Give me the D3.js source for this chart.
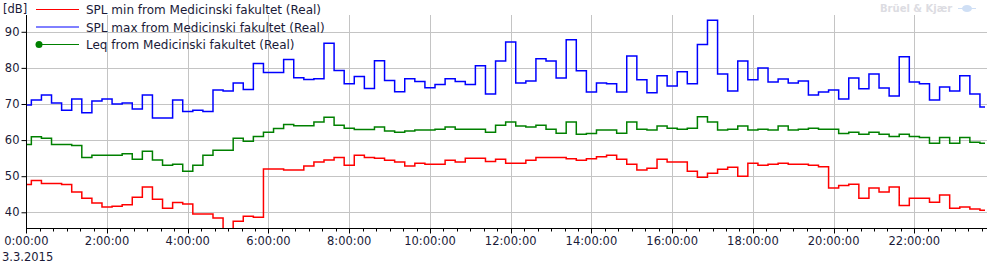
<!DOCTYPE html>
<html>
<head>
<meta charset="utf-8">
<script src="https://cdn.jsdelivr.net/npm/d3@7"></script>
<style>
  body { margin: 0; background: #fff; }
  svg { display: block; font-family: 'DejaVu Sans', sans-serif; }
</style>
</head>
<body>
<svg id="chart" width="990" height="264"></svg>
<script>
'use strict';

// 15 minute values, 3.3.2015 from 0:00:00 to 23:45:00
var splMin = [
  47.7, 48.8, 48.0, 48.0, 47.7, 45.6, 43.9, 42.6, 41.5, 41.7, 42.1, 44.2,
  47.0, 43.6, 41.1, 42.7, 42.3, 39.5, 39.5, 38.4, 35.3, 37.5, 38.9, 38.6,
  52.0, 52.0, 51.7, 51.7, 52.8, 53.9, 54.5, 55.2, 53.0, 55.8, 55.2, 55.0,
  54.4, 53.9, 52.8, 53.6, 53.3, 53.3, 54.4, 53.9, 55.0, 55.0, 54.1, 54.7,
  53.6, 53.6, 54.4, 55.2, 55.2, 55.2, 54.8, 54.4, 54.8, 55.4, 55.8, 54.7,
  53.3, 51.7, 52.2, 54.7, 53.9, 53.9, 51.4, 49.7, 50.8, 51.9, 52.5, 50.0,
  53.6, 53.0, 53.3, 53.6, 53.3, 53.3, 53.0, 52.6, 46.7, 47.4, 47.8, 43.9,
  46.7, 45.6, 47.0, 41.9, 43.9, 43.9, 42.8, 44.8, 41.1, 41.5, 40.9, 40.6
];
var splMax = [
  69.7, 71.1, 72.5, 70.3, 68.3, 71.4, 67.6, 70.8, 71.4, 70.0, 70.3, 68.6,
  72.5, 66.1, 66.1, 71.1, 67.9, 68.3, 67.9, 73.9, 73.6, 75.8, 74.0, 81.2,
  78.7, 78.7, 82.3, 77.3, 76.8, 77.0, 86.8, 79.3, 75.6, 77.6, 74.3, 82.0,
  76.5, 73.4, 77.0, 76.2, 74.5, 75.4, 77.0, 76.2, 75.4, 80.6, 72.8, 81.9,
  87.2, 75.8, 76.4, 82.5, 81.9, 77.2, 87.8, 79.2, 73.3, 75.8, 75.6, 73.3,
  83.3, 76.7, 73.1, 77.8, 75.0, 78.9, 75.6, 86.5, 93.2, 78.3, 73.6, 81.9,
  76.7, 80.0, 76.1, 76.9, 75.8, 76.4, 72.5, 73.3, 73.9, 71.4, 77.2, 74.2,
  78.3, 74.4, 72.2, 83.1, 76.1, 75.6, 71.1, 74.7, 73.6, 77.8, 72.8, 69.2
];
var leq = [
  58.8, 60.9, 60.5, 58.8, 58.8, 58.5, 55.2, 55.8, 55.8, 55.8, 56.2, 54.7,
  56.9, 54.5, 53.0, 53.3, 51.4, 53.0, 55.8, 57.2, 57.2, 60.5, 59.7, 61.0,
  62.2, 63.2, 64.3, 64.0, 64.0, 65.0, 66.3, 64.1, 63.3, 62.9, 62.9, 63.6,
  62.5, 62.2, 62.5, 62.8, 62.8, 63.0, 63.6, 63.0, 63.0, 63.0, 62.2, 64.1,
  65.0, 63.9, 63.6, 64.1, 63.0, 61.9, 65.0, 61.6, 61.8, 62.8, 62.8, 61.9,
  65.0, 63.0, 62.8, 63.9, 63.3, 63.0, 63.3, 66.5, 65.0, 62.8, 63.0, 63.9,
  62.8, 63.0, 62.8, 63.9, 62.8, 63.0, 63.3, 63.0, 63.0, 61.8, 62.2, 61.6,
  62.2, 61.6, 61.0, 61.6, 61.0, 60.7, 59.1, 60.7, 59.1, 60.7, 59.4, 59.1
];

var seriesNames = [
  'SPL min from Medicinski fakultet (Real)',
  'SPL max from Medicinski fakultet (Real)',
  'Leq from Medicinski fakultet (Real)'
];
var seriesColors = ['#ff0000', '#0000ff', '#008000'];
var yTicks = [40, 50, 60, 70, 80, 90];
var yUnit = '[dB]';
var dateLabel = '3.3.2015';
var brand = 'Brüel & Kjær';

var day = new Date(2015, 2, 3, 0, 0, 0);
var times = splMin.map(function(d, i){ return d3.timeMinute.offset(day, i * 15); });

var plot = { left: 26.3, right: 985, gridRight: 987, top: 15, bottom: 228 };
var inkColor = '#1a1a38';

var svg = d3.select('#chart');

var x = d3.scaleTime()
  .domain([day, times[times.length - 1]])
  .range([plot.left, plot.right]);

var y = d3.scaleLinear()
  .domain([35.65, 94.65])
  .range([plot.bottom, plot.top]);

// grid
var hourTicks = x.ticks(d3.timeHour.every(2));

svg.append('g').selectAll('line')
  .data(yTicks)
  .enter().append('line')
  .attr('x1', plot.left).attr('x2', plot.gridRight)
  .attr('y1', function(d){ return Math.round(y(d)) + 0.5; })
  .attr('y2', function(d){ return Math.round(y(d)) + 0.5; })
  .attr('stroke', '#c4c4c4');

svg.append('g').selectAll('line')
  .data(hourTicks.slice(1))
  .enter().append('line')
  .attr('x1', function(d){ return Math.round(x(d)) + 0.5; })
  .attr('x2', function(d){ return Math.round(x(d)) + 0.5; })
  .attr('y1', plot.top).attr('y2', plot.bottom)
  .attr('stroke', '#c4c4c4');

// series
svg.append('clipPath').attr('id', 'plotClip')
  .append('rect')
  .attr('x', plot.left).attr('y', plot.top)
  .attr('width', plot.gridRight - plot.left).attr('height', plot.bottom - plot.top);

var line = d3.line()
  .x(function(d, i){ return x(times[i]); })
  .y(function(d){ return y(d); })
  .curve(d3.curveStep);

var seriesData = [splMin, splMax, leq];
svg.append('g').attr('clip-path', 'url(#plotClip)')
  .selectAll('path')
  .data(seriesData)
  .enter().append('path')
  .attr('d', line)
  .attr('fill', 'none')
  .attr('stroke', function(d, i){ return seriesColors[i]; })
  .attr('stroke-width', 1.5);

// y axis
var yAxis = d3.axisLeft(y)
  .tickValues(yTicks)
  .tickSize(5)
  .tickPadding(2);

var yAxisG = svg.append('g')
  .attr('transform', 'translate(' + (Math.round(plot.left) + 0.5) + ',0)')
  .call(yAxis);
yAxisG.select('.domain').attr('d', 'M0,' + plot.top + 'V' + (plot.bottom + 2)).attr('stroke', '#000');
yAxisG.selectAll('.tick line').attr('stroke', '#000');
yAxisG.selectAll('text')
  .attr('font-size', 11.5)
  .attr('font-family', "'DejaVu Sans', sans-serif")
  .attr('fill', inkColor);

svg.append('text')
  .attr('x', 3).attr('y', 13)
  .attr('font-size', 11.5)
  .attr('fill', inkColor)
  .text(yUnit);

// x axis: minor ticks every 20 minutes, labels every 2 hours
var axisY = Math.round(plot.bottom) + 0.5;

svg.append('line')
  .attr('x1', plot.left).attr('x2', plot.gridRight)
  .attr('y1', axisY).attr('y2', axisY)
  .attr('stroke', '#000');

svg.append('g').selectAll('line')
  .data(x.ticks(d3.timeMinute.every(20)))
  .enter().append('line')
  .attr('x1', function(d){ return Math.round(x(d)) + 0.5; })
  .attr('x2', function(d){ return Math.round(x(d)) + 0.5; })
  .attr('y1', axisY)
  .attr('y2', function(d){ return d.getMinutes() === 0 && d.getHours() % 2 === 0 ? axisY + 5 : axisY + 3; })
  .attr('stroke', '#000');

var timeFormat = d3.timeFormat('%-H:%M:%S');
svg.append('g').selectAll('text')
  .data(hourTicks)
  .enter().append('text')
  .attr('x', function(d){ return x(d); })
  .attr('y', 245)
  .attr('text-anchor', 'middle')
  .attr('font-size', 11.5)
  .attr('fill', inkColor)
  .text(function(d){ return timeFormat(d); });

svg.append('text')
  .attr('x', 2).attr('y', 261)
  .attr('font-size', 11.5)
  .attr('fill', inkColor)
  .text(dateLabel);

// legend
var legend = svg.append('g').selectAll('g')
  .data(seriesNames)
  .enter().append('g')
  .attr('transform', function(d, i){ return 'translate(0,' + (9.5 + i * 17.5) + ')'; });

legend.append('line')
  .attr('x1', 36).attr('x2', 79)
  .attr('y1', 0).attr('y2', 0)
  .attr('stroke', function(d, i){ return seriesColors[i]; })
  .attr('stroke-width', 1);

legend.filter(function(d, i){ return i === 2; })
  .append('circle')
  .attr('cx', 39).attr('r', 3.5)
  .attr('fill', seriesColors[2]);

legend.append('text')
  .attr('x', 86).attr('y', 4.5)
  .attr('font-size', 12)
  .attr('fill', inkColor)
  .text(function(d){ return d; });

// brand mark
svg.append('text')
  .attr('x', 880).attr('y', 12)
  .attr('font-size', 10)
  .attr('font-weight', 'bold')
  .attr('fill', '#dcdce2')
  .text(brand);

svg.append('ellipse')
  .attr('cx', 967).attr('cy', 8.5)
  .attr('rx', 5).attr('ry', 3.5)
  .attr('fill', '#cfdff5');
svg.append('line')
  .attr('x1', 958).attr('x2', 976)
  .attr('y1', 8.5).attr('y2', 8.5)
  .attr('stroke', '#cfdff5');
</script>
</body>
</html>
